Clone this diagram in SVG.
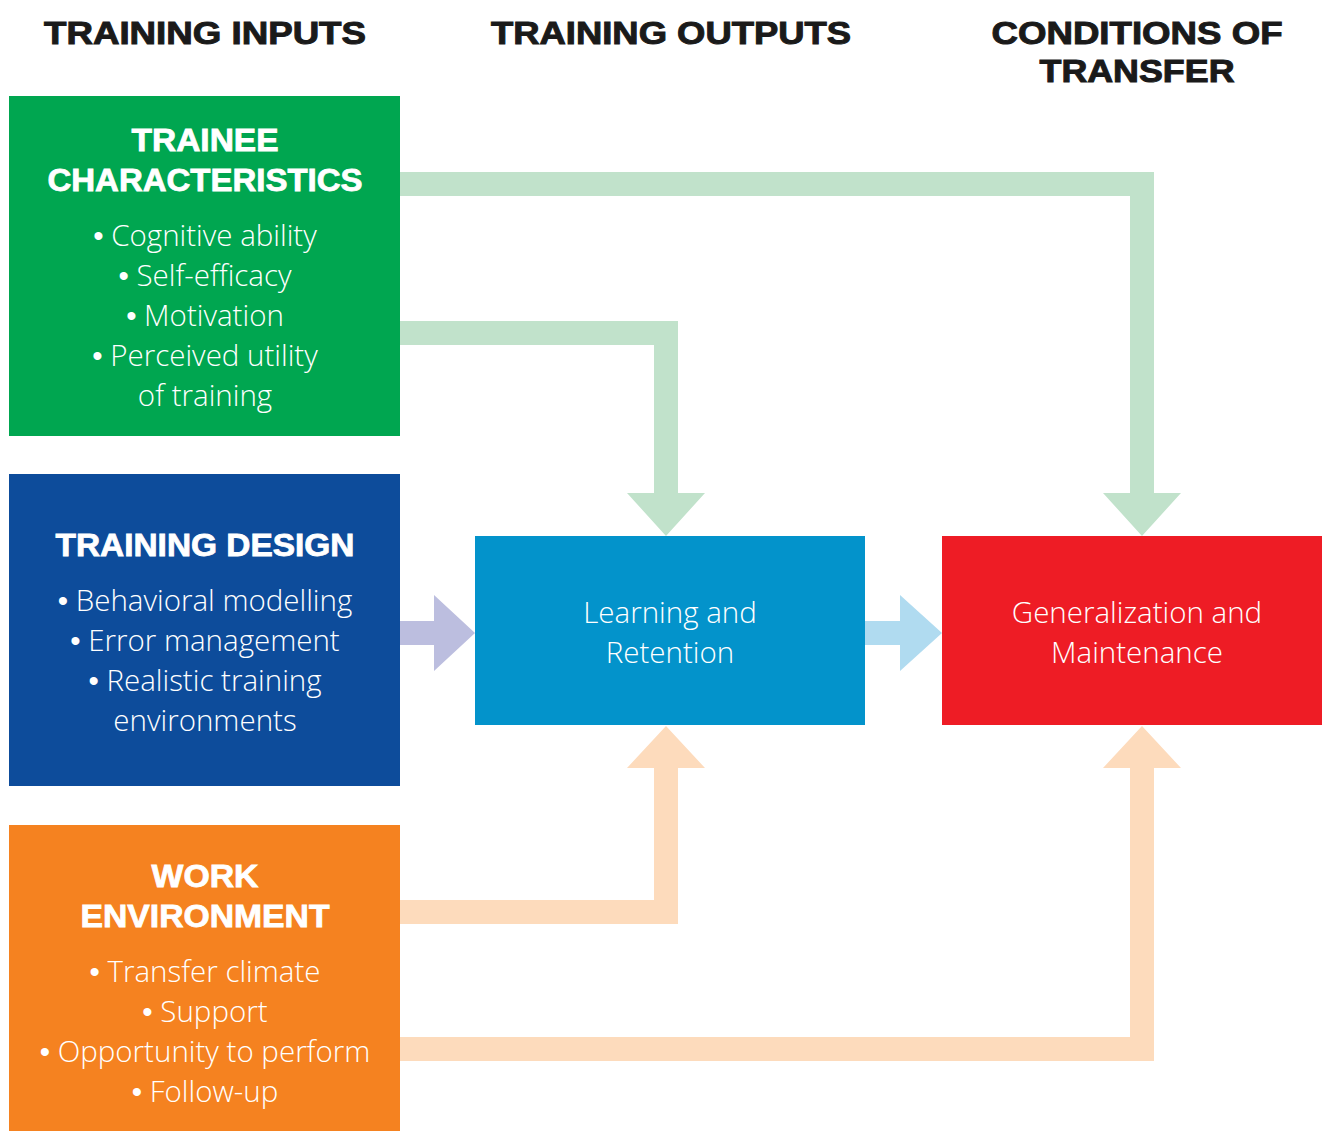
<svg xmlns="http://www.w3.org/2000/svg" width="1322" height="1131" viewBox="0 0 1322 1131">
<style>
.hdr{font-family:"Liberation Sans",Arial,sans-serif;font-weight:900;font-size:32px;fill:#1a1a1a;stroke:#1a1a1a;stroke-width:1;text-anchor:middle}
.ttl{font-family:"Liberation Sans",Arial,sans-serif;font-weight:900;font-size:31px;fill:#fff;stroke:#fff;stroke-width:0.8;text-anchor:middle}
.body{font-family:"Open Sans","Noto Sans",sans-serif;font-weight:300;font-size:29.5px;fill:#fff;text-anchor:middle}
.bl{font-family:"Liberation Sans",Arial,sans-serif;font-weight:400}
.ag{fill:#C1E2CB}.ao{fill:#FDDBBC}.ap{fill:#BCBEDF}.ab{fill:#B0DBF0}
</style>
<rect width="1322" height="1131" fill="#fff"/>
<g id="headers">
<text class="hdr" x="205" y="44" textLength="322" lengthAdjust="spacingAndGlyphs">TRAINING INPUTS</text>
<text class="hdr" x="671" y="44" textLength="360" lengthAdjust="spacingAndGlyphs">TRAINING OUTPUTS</text>
<text class="hdr" x="1137" y="44" textLength="291" lengthAdjust="spacingAndGlyphs">CONDITIONS OF</text>
<text class="hdr" x="1137" y="82" textLength="195" lengthAdjust="spacingAndGlyphs">TRANSFER</text>
</g>
<g id="connectors">
<polygon class="ag" points="400,172 1154,172 1154,493 1181,493 1142,536 1103,493 1130,493 1130,196 400,196"/>
<polygon class="ag" points="400,321 678,321 678,493 705,493 666,536 627,493 654,493 654,345 400,345"/>
<polygon class="ao" points="400,924 678,924 678,768 705,768 666,726 627,768 654,768 654,900 400,900"/>
<polygon class="ao" points="400,1061 1154,1061 1154,768 1181,768 1142,726 1103,768 1130,768 1130,1037 400,1037"/>
<polygon class="ap" points="400,621 434,621 434,595 475,633 434,671 434,645 400,645"/>
<polygon class="ab" points="865,621 900,621 900,595 942,633 900,671 900,645 865,645"/>
</g>
<g id="trainee">
<rect x="9" y="96" width="391" height="340" fill="#00A650"/>
<text class="ttl" x="205" y="151" textLength="147" lengthAdjust="spacingAndGlyphs">TRAINEE</text>
<text class="ttl" x="205" y="191" textLength="315" lengthAdjust="spacingAndGlyphs">CHARACTERISTICS</text>
<text class="body" x="205" y="246"><tspan class="bl">•</tspan> Cognitive ability</text>
<text class="body" x="205" y="286"><tspan class="bl">•</tspan> Self-efficacy</text>
<text class="body" x="205" y="326"><tspan class="bl">•</tspan> Motivation</text>
<text class="body" x="205" y="366"><tspan class="bl">•</tspan> Perceived utility</text>
<text class="body" x="205" y="406">of training</text>
</g>
<g id="design">
<rect x="9" y="474" width="391" height="312" fill="#0D4C9B"/>
<text class="ttl" x="205" y="556" textLength="299" lengthAdjust="spacingAndGlyphs">TRAINING DESIGN</text>
<text class="body" x="205" y="611"><tspan class="bl">•</tspan> Behavioral modelling</text>
<text class="body" x="205" y="651"><tspan class="bl">•</tspan> Error management</text>
<text class="body" x="205" y="691"><tspan class="bl">•</tspan> Realistic training</text>
<text class="body" x="205" y="731">environments</text>
</g>
<g id="work">
<rect x="9" y="825" width="391" height="306" fill="#F58220"/>
<text class="ttl" x="205" y="887" textLength="107" lengthAdjust="spacingAndGlyphs">WORK</text>
<text class="ttl" x="205" y="927" textLength="249" lengthAdjust="spacingAndGlyphs">ENVIRONMENT</text>
<text class="body" x="205" y="982"><tspan class="bl">•</tspan> Transfer climate</text>
<text class="body" x="205" y="1022"><tspan class="bl">•</tspan> Support</text>
<text class="body" x="205" y="1062"><tspan class="bl">•</tspan> Opportunity to perform</text>
<text class="body" x="205" y="1102"><tspan class="bl">•</tspan> Follow-up</text>
</g>
<g id="learning">
<rect x="475" y="536" width="390" height="189" fill="#0393CB"/>
<text class="body" x="670" y="623">Learning and</text>
<text class="body" x="670" y="663">Retention</text>
</g>
<g id="generalization">
<rect x="942" y="536" width="380" height="189" fill="#EE1C25"/>
<text class="body" x="1137" y="623">Generalization and</text>
<text class="body" x="1137" y="663">Maintenance</text>
</g>
</svg>
